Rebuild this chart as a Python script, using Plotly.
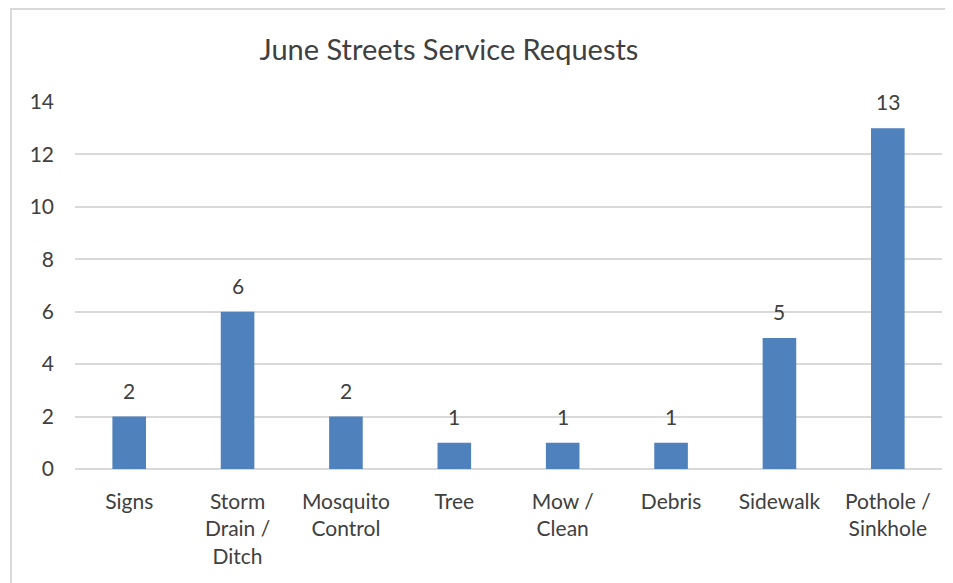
import plotly.graph_objects as go

categories = ["Signs", "Storm<br>Drain /<br>Ditch", "Mosquito<br>Control", "Tree",
              "Mow /<br>Clean", "Debris", "Sidewalk", "Pothole /<br>Sinkhole"]
values = [2, 6, 2, 1, 1, 1, 5, 13]
y_ticks = [0, 2, 4, 6, 8, 10, 12, 14]

# page body has an 8px margin; work in figure coordinates
OFF = 8
W, H = 953 - OFF, 583 - OFF
L, R, T, B = 75 - OFF, 11, 102 - OFF, 114

TXT = "#404040"

fig = go.Figure(go.Bar(
    x=categories, y=values,
    marker=dict(color="#4F81BD", line=dict(width=0)),
    width=0.31,
    cliponaxis=False,
))

annotations = [dict(x=c, y=v, xref="x", yref="y", text=str(v), showarrow=False,
                    xanchor="center", yanchor="bottom", yshift=12,
                    font=dict(family="Lato", size=21, color=TXT))
               for c, v in zip(categories, values)]

fig.update_layout(
    width=W, height=H,
    margin=dict(l=L, r=R, t=T, b=B, autoexpand=False),
    paper_bgcolor="white", plot_bgcolor="white",
    font=dict(family="Lato", size=21, color=TXT),
    title=dict(text="June Streets Service Requests",
               x=(449 - OFF) / W, xanchor="center", xref="container",
               y=1 - (50 - OFF) / H, yanchor="middle", yref="container",
               font=dict(family="Lato", size=29, color=TXT)),
    showlegend=False,
    annotations=annotations,
    xaxis=dict(showgrid=False, showline=False, ticks="", tickfont=dict(size=21),
               ticklabelstandoff=18),
    yaxis=dict(range=[0, 14], tickvals=y_ticks, showgrid=True, gridcolor="#d9d9d9",
               gridwidth=1.5, zeroline=True, zerolinecolor="#d9d9d9", zerolinewidth=1.5,
               showline=False, ticks="", tickfont=dict(size=21), ticklabelstandoff=20),
    shapes=[dict(type="rect", xref="paper", yref="paper",
                 x0=-(L - (11 - OFF)) / (W - L - R), x1=1 + (R + 20) / (W - L - R),
                 y0=-(B + 20) / (H - T - B), y1=1 + (T - (9 - OFF)) / (H - T - B),
                 line=dict(color="#d9d9d9", width=2), layer="below")],
)

fig.write_html("out.html")
